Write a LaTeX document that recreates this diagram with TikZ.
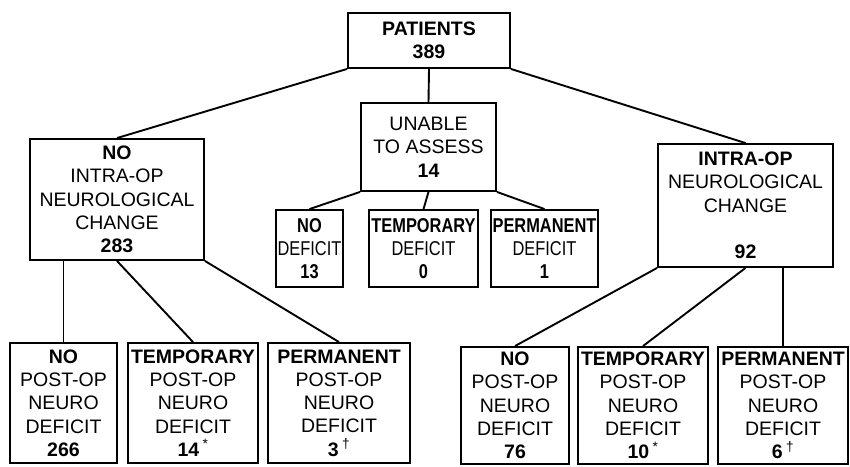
\documentclass[tikz,border=0pt]{standalone}
\usepackage{fontspec}
\setmainfont{Liberation Sans}
\newfontfamily\narrowfont[FakeStretch=0.82]{Liberation Sans}
\usepackage{tikz}
\tikzset{
  grp/.style={draw, line width=1.9pt, align=center, inner sep=0pt,
              font=\fontsize{19.5}{23.3}\selectfont},
  mid/.style={grp, font=\narrowfont\fontsize{20}{23}\selectfont},
  lnk/.style={line width=1.9pt}
}

\begin{document}
\begin{tikzpicture}[x=1pt, y=-1pt]
\useasboundingbox (0,0) rectangle (850,466);
% top level
\node[grp, minimum width=162pt, minimum height=55pt] (pat) at (429,40.5) {\textbf{PATIENTS}\\\textbf{389}};
% second level
\node[grp, minimum width=174pt, minimum height=121pt] (noch) at (117,199.5) {\textbf{NO}\\INTRA-OP\\NEUROLOGICAL\\CHANGE\\\textbf{283}};
\node[grp, minimum width=135pt, minimum height=88pt] (una) at (428.5,147) {UNABLE\\TO ASSESS\\\textbf{14}};
\node[grp, minimum width=175pt, minimum height=123pt] (ich) at (745.5,205.5) {\textbf{INTRA-OP}\\NEUROLOGICAL\\CHANGE\\[23.3pt]\textbf{92}};
% unable to assess
\node[mid, minimum width=67pt, minimum height=77pt] (und) at (309.5,248.5) {\textbf{NO}\\DEFICIT\\\textbf{13}};
\node[mid, minimum width=109pt, minimum height=77pt] (unt) at (423.5,248.5) {\textbf{TEMPORARY}\\DEFICIT\\\textbf{0}};
\node[mid, minimum width=107pt, minimum height=77pt] (unp) at (544.5,248.5) {\textbf{PERMANENT}\\DEFICIT\\\textbf{1}};
% post-op, no intra-op change
\node[grp, minimum width=107pt, minimum height=120pt] (nno) at (63.5,403) {\textbf{NO}\\POST-OP\\NEURO\\DEFICIT\\\textbf{266}};
\node[grp, minimum width=130pt, minimum height=120pt] (ntmp) at (193,403) {\textbf{TEMPORARY}\\POST-OP\\NEURO\\DEFICIT\\\textbf{14}\,\textsuperscript{*}};
\node[grp, minimum width=142pt, minimum height=120pt] (nprm) at (339,403) {\textbf{PERMANENT}\\POST-OP\\NEURO\\DEFICIT\\\textbf{3}\,\textsuperscript{\dag}};
% post-op, intra-op change
\node[grp, minimum width=108pt, minimum height=117pt] (ino) at (515,405.5) {\textbf{NO}\\POST-OP\\NEURO\\DEFICIT\\\textbf{76}};
\node[grp, minimum width=130pt, minimum height=117pt] (itmp) at (643,405.5) {\textbf{TEMPORARY}\\POST-OP\\NEURO\\DEFICIT\\\textbf{10}\,\textsuperscript{*}};
\node[grp, minimum width=130pt, minimum height=117pt] (iprm) at (783,405.5) {\textbf{PERMANENT}\\POST-OP\\NEURO\\DEFICIT\\\textbf{6}\,\textsuperscript{\dag}};
% connectors
\draw[lnk] (pat.south west) -- (noch.north);
\draw[lnk] (pat.south) -- (una.north);
\draw[lnk] (pat.south east) -- (ich.north);
\draw[lnk] (una.south west) -- (und.north);
\draw[lnk] (una.south) -- (unt.north);
\draw[lnk] (una.south east) -- (unp.north);
\draw[lnk] (nno.north |- noch.south) -- (nno.north);
\draw[lnk] (noch.south) -- (ntmp.north);
\draw[lnk] (noch.south east) -- (nprm.north);
\draw[lnk] (ich.south west) -- (ino.north);
\draw[lnk] (ich.south) -- (itmp.north);
\draw[lnk] (iprm.north |- ich.south) -- (iprm.north);
\end{tikzpicture}
\end{document}
